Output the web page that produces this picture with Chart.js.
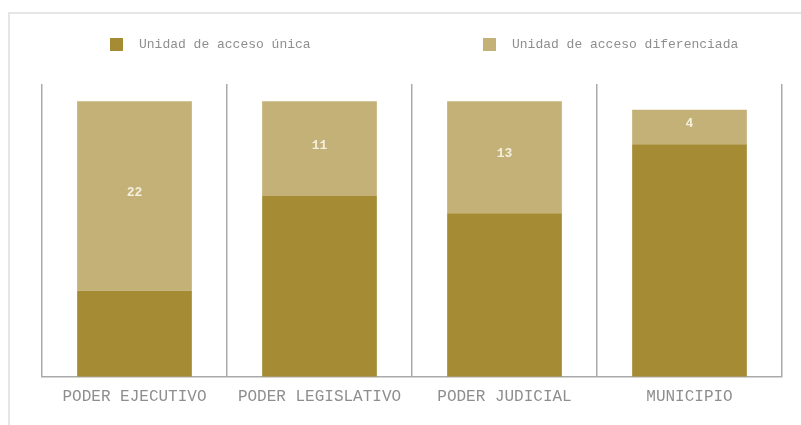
<!DOCTYPE html>
<html>
<head>
<meta charset="utf-8">
<script src="https://cdn.jsdelivr.net/npm/chart.js@4.4.1/dist/chart.umd.min.js"></script>
<style>
  html, body { margin: 0; padding: 0; background: #fff; overflow: hidden; }
  #frame { position: absolute; left: 8px; top: 12px; width: 840px; height: 460px;
           border-top: 2px solid #e6e6e6; border-left: 2px solid #e6e6e6; }
  #wrap { position: absolute; left: 0; top: 0; width: 801px; height: 425px; }
</style>
</head>
<body>
<div id="frame"></div>
<div id="wrap"><canvas id="c" width="801" height="425"></canvas></div>
<script>
// Categories and the two stacked series
const categories = ['PODER EJECUTIVO', 'PODER LEGISLATIVO', 'PODER JUDICIAL', 'MUNICIPIO'];
const seriesNames = ['Unidad de acceso única', 'Unidad de acceso diferenciada'];
const unicaValues = [10, 21, 19, 27];
const diferenciadaValues = [22, 11, 13, 4];

const COLOR_UNICA = '#a58b34';
const COLOR_DIF = '#c3b178';
const TEXT_GRAY = '#8e8e8e';
const LINE_GRAY = '#aaaaaa';
const MONO = '"Liberation Mono", "DejaVu Sans Mono", monospace';

// Value labels centred inside the light (upper) segments
const segmentLabels = {
  id: 'segmentLabels',
  afterDatasetsDraw(chart) {
    const ctx = chart.ctx;
    const meta = chart.getDatasetMeta(1);
    ctx.save();
    ctx.font = 'bold 13px ' + MONO;
    ctx.fillStyle = '#f4efdc';
    ctx.textAlign = 'center';
    ctx.textBaseline = 'middle';
    meta.data.forEach((bar, i) => {
      const p = bar.getProps(['x', 'y', 'base'], true);
      ctx.fillText(String(chart.data.datasets[1].data[i]), p.x, (p.y + p.base) / 2 - 3);
    });
    ctx.restore();
  }
};

// Legend drawn above the plot, one item over each half of the chart
const spreadLegend = {
  id: 'spreadLegend',
  afterDraw(chart) {
    const ctx = chart.ctx;
    const area = chart.chartArea;
    const centers = [0.227, 0.768];
    ctx.save();
    ctx.font = '13px ' + MONO;
    ctx.textBaseline = 'middle';
    ctx.textAlign = 'left';
    chart.data.datasets.forEach((ds, i) => {
      const tw = ctx.measureText(ds.label).width;
      const w = 13 + 16 + tw;
      const cx = area.left + (area.right - area.left) * centers[i];
      const x0 = Math.round(cx - w / 2);
      ctx.fillStyle = ds.backgroundColor;
      ctx.fillRect(x0, 38, 13, 13);
      ctx.fillStyle = TEXT_GRAY;
      ctx.fillText(ds.label, x0 + 29, 45);
    });
    ctx.restore();
  }
};

new Chart(document.getElementById('c'), {
  type: 'bar',
  data: {
    labels: categories,
    datasets: [
      { label: seriesNames[0], data: unicaValues, backgroundColor: COLOR_UNICA,
        categoryPercentage: 1, barPercentage: 0.62 },
      { label: seriesNames[1], data: diferenciadaValues, backgroundColor: COLOR_DIF,
        categoryPercentage: 1, barPercentage: 0.62 }
    ]
  },
  options: {
    responsive: false,
    animation: false,
    devicePixelRatio: 1,
    layout: { padding: { left: 42, right: 19, top: 84, bottom: 9 } },
    plugins: { legend: { display: false }, tooltip: { enabled: false } },
    scales: {
      x: {
        stacked: true,
        offset: true,
        grid: { display: true, offset: true, color: LINE_GRAY, lineWidth: 1.5, drawTicks: false },
        border: { display: true, color: LINE_GRAY, width: 1.5 },
        ticks: { color: TEXT_GRAY, font: { family: MONO, size: 16 }, padding: 10, maxRotation: 0 }
      },
      y: {
        stacked: true,
        display: false,
        min: 0,
        max: 34
      }
    }
  },
  plugins: [segmentLabels, spreadLegend]
});
</script>
</body>
</html>
